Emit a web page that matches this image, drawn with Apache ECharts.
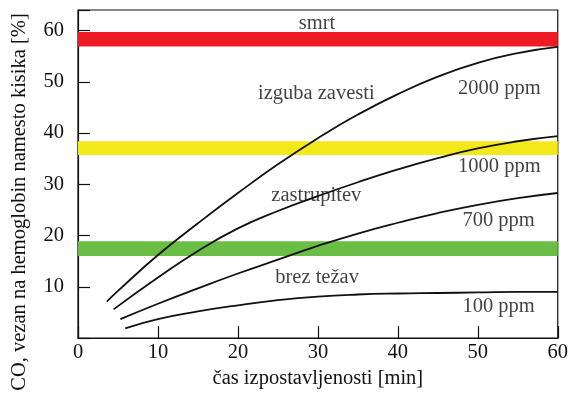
<!DOCTYPE html>
<html>
<head>
<meta charset="utf-8">
<script src="https://cdn.jsdelivr.net/npm/echarts@6/dist/echarts.min.js"></script>
<style>
html,body{margin:0;padding:0;background:#fff;}
#chart{width:571px;height:394px;}
</style>
</head>
<body>
<div id="chart"></div>
<script>
// ---- data ----
const xTicks = [0, 10, 20, 30, 40, 50, 60];
const yTicks = [10, 20, 30, 40, 50, 60];

const curve2000 = [[3.6, 7.1], [5, 9.2], [10, 16.2], [15, 22.4], [20, 28.3], [25, 33.9], [30, 39.0], [35, 43.6], [40, 47.6], [45, 51.0], [50, 53.7], [55, 55.6], [60, 56.8]];
const curve1000 = [[4.45, 5.6], [10, 11.8], [15, 17.0], [20, 21.4], [25, 24.8], [30, 27.7], [35, 30.4], [40, 32.9], [45, 35.1], [50, 37.0], [55, 38.4], [60, 39.4]];
const curve700 = [[5.3, 3.7], [10, 6.7], [15, 9.7], [20, 12.6], [25, 15.3], [30, 18.0], [35, 20.4], [40, 22.5], [45, 24.4], [50, 26.0], [55, 27.3], [60, 28.3]];
const curve100 = [[5.9, 1.9], [10, 3.7], [15, 5.2], [20, 6.4], [25, 7.4], [30, 8.1], [35, 8.5], [40, 8.7], [45, 8.8], [50, 8.9], [55, 9.0], [60, 9.0]];

const bandNames = ['smrt', 'izguba zavesti', 'zastrupitev'];
const bandLow = [56.9, 35.7, 16.0];
const bandHigh = [59.7, 38.4, 18.9];

const labelTexts = ['smrt', 'izguba zavesti', '2000 ppm', 'zastrupitev', '1000 ppm', '700 ppm', 'brez težav', '100 ppm'];
const labelX = [29.9, 29.8, 52.7, 29.8, 52.7, 52.6, 29.9, 52.6];
const labelY = [61.4, 47.7, 48.6, 27.8, 33.4, 22.9, 11.8, 6.2];

const xTitle = 'čas izpostavljenosti [min]';
const yTitle = 'CO, vezan na hemoglobin namesto kisika [%]';

// ---- styles ----
const FONT = '"Liberation Serif", "DejaVu Serif", serif';
const INK = '#111';
const bandColors = ['#ed1c24', '#f2e81a', '#6abd45'];
const FS = 20.5;

const chart = echarts.init(document.getElementById('chart'), null, {renderer: 'canvas'});

const curveSeries = [curve2000, curve1000, curve700, curve100].map(function (d) {
  return {
    type: 'line',
    data: d,
    smooth: 0.5,
    showSymbol: false,
    symbol: 'none',
    z: 3,
    lineStyle: {color: INK, width: 1.8},
    silent: true
  };
});

const bandSeries = {
  type: 'line',
  data: [],
  z: 1,
  markArea: {
    silent: true,
    data: bandNames.map(function (n, i) {
      return [
        {xAxis: 0, yAxis: bandLow[i], itemStyle: {color: bandColors[i], opacity: 1}},
        {xAxis: 60, yAxis: bandHigh[i]}
      ];
    })
  }
};

const labelSeries = {
  type: 'scatter',
  symbolSize: 0,
  z: 4,
  silent: true,
  data: labelTexts.map(function (t, i) { return {name: t, value: [labelX[i], labelY[i]]}; }),
  label: {
    show: true,
    position: 'inside',
    formatter: function (p) { return p.name; },
    fontFamily: FONT,
    fontSize: FS,
    color: INK
  }
};

chart.setOption({
  animation: false,
  backgroundColor: '#fff',
  grid: {left: 78, right: 12, top: 10, bottom: 52, show: true, borderColor: INK, borderWidth: 1.2, backgroundColor: 'transparent'},
  xAxis: {
    type: 'value',
    min: xTicks[0],
    max: xTicks[xTicks.length - 1],
    interval: 10,
    splitLine: {show: false},
    axisLine: {lineStyle: {color: INK, width: 1.2}},
    axisTick: {inside: true, length: 12, lineStyle: {color: INK, width: 1.2}},
    axisLabel: {fontFamily: FONT, fontSize: FS, color: INK, margin: 4},
    name: xTitle,
    nameLocation: 'middle',
    nameGap: 26,
    nameTextStyle: {fontFamily: FONT, fontSize: FS, color: INK}
  },
  yAxis: {
    type: 'value',
    min: 0,
    max: 64,
    interval: 10,
    splitLine: {show: false},
    axisLine: {lineStyle: {color: INK, width: 1.2}},
    axisTick: {inside: true, length: 12, lineStyle: {color: INK, width: 1.2},
      interval: function (i, v) { return yTicks.indexOf(Number(v)) >= 0; }},
    axisLabel: {fontFamily: FONT, fontSize: FS, color: INK, margin: 14,
      formatter: function (v) { return yTicks.indexOf(v) >= 0 ? String(v) : ''; }},
    showMaxLabel: false
  },
  graphic: [{
    type: 'text',
    rotation: Math.PI / 2,
    x: 20, y: 202,
    style: {text: yTitle, fontFamily: FONT, fontSize: FS, fill: INK, textAlign: 'center', textVerticalAlign: 'middle'}
  }],
  series: [bandSeries].concat(curveSeries).concat([labelSeries])
});
</script>
</body>
</html>
